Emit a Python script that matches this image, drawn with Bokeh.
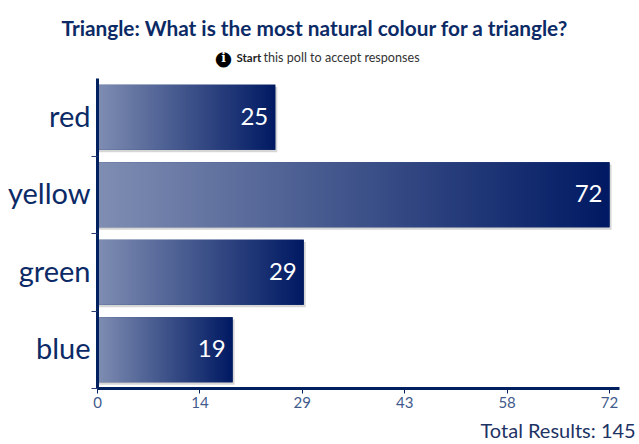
import numpy as np
from bokeh.plotting import figure
from bokeh.layouts import column
from bokeh.models import Range1d, FixedTicker, Label, ColumnDataSource
from bokeh.core.properties import value
from bokeh.embed import file_html
from bokeh.resources import INLINE

categories = ["red", "yellow", "green", "blue"]
votes = [25, 72, 29, 19]
x_ticks = [0, 14.4, 28.8, 43.2, 57.6, 72]
x_tick_labels = ["0", "14", "29", "43", "58", "72"]

NAVY = "#00205f"
FONT = "Lato"
BAR_H = 0.84
SHADOW_DX, SHADOW_DY = 0.28, 0.03
LABEL_NUDGE = 0.025
W, H_HEAD, H_MAIN, H_FOOT = 639, 78, 337, 29


def band(height):
    f = figure(width=W, height=height, output_backend="svg", toolbar_location=None,
               x_range=Range1d(0, W), y_range=Range1d(0, height),
               x_axis_type=None, y_axis_type=None, min_border=0,
               outline_line_color=None, background_fill_color="white", border_fill_color="white")
    f.grid.visible = False
    return f


def label(f, x, y, text, size, color, align="left", style="normal", font=FONT):
    f.add_layout(Label(x=x, y=y, x_units="screen", y_units="screen", text=text,
                       text_font=font, text_font_size=size, text_color=color,
                       text_align=align, text_font_style=style, text_baseline="middle"))


head = band(H_HEAD)
label(head, 61, 51, "Triangle: What is the most natural colour for a triangle?", "20.8px", "#0b2a66", "left", "bold")
label(head, 236, 21, "Start", "11.5px", "#222222", "left", "bold")
label(head, 263, 21, "this poll to accept responses", "12.6px", "#333333")
label(head, 223, 21, "\u25cf", "20px", "black", "center", font="DejaVu Sans")
label(head, 223, 21, "i", "12px", "white", "center", "bold", font="DejaVu Serif")

foot = band(H_FOOT)
label(foot, 480, 15, "Total Results: 145", "20px", "#1d3364", "left")

p = figure(width=W, height=H_MAIN, output_backend="svg", toolbar_location=None,
           x_range=Range1d(0, 73.4), y_range=Range1d(4, 0),
           min_border_left=97, min_border_right=20, min_border_top=0, min_border_bottom=27,
           outline_line_color=None, background_fill_color="white", border_fill_color="white")
p.grid.visible = False

ys = [i + 0.5 for i in range(len(categories))]
src = ColumnDataSource(dict(y=ys, v=votes, label=[str(v) for v in votes]))

# soft shadow, then the real bars, then a left-to-right gradient on each of them
p.hbar(y=[y + SHADOW_DY for y in ys], left=0, right=[v + SHADOW_DX for v in votes],
       height=BAR_H, fill_color="#c4c4c4", fill_alpha=0.7, line_color=None)
p.hbar(y="y", left=0, right="v", height=BAR_H, source=src, fill_color=NAVY, line_color=None)

N = 256
t = np.linspace(0, 1, N)
c0, c1 = np.array([0x80, 0x8e, 0xb3]), np.array([0x00, 0x1a, 0x63])
rgb = (c0[None, :] * (1 - t[:, None]) + c1[None, :] * t[:, None]).astype(np.uint32)
row = (255 << 24) | (rgb[:, 2] << 16) | (rgb[:, 1] << 8) | rgb[:, 0]
grad = row.reshape(1, N).astype(np.uint32)
p.image_rgba(image=[grad] * len(votes), x=[0] * len(votes), y=[y - BAR_H / 2 for y in ys],
             dw=votes, dh=[BAR_H] * len(votes))

p.text(x="v", y="y", text="label", source=src, text_color="white", text_align="right",
       text_baseline="middle", x_offset=-7, y_offset=-1,
       text_font=value(FONT), text_font_size="24px")

# axes
ax = p.xaxis[0]
ax.ticker = FixedTicker(ticks=x_ticks)
ax.major_label_overrides = dict(zip(x_ticks, x_tick_labels))
ax.axis_line_color = NAVY
ax.axis_line_width = 3
ax.major_tick_line_color = NAVY
ax.major_tick_out = 5
ax.major_tick_in = 0
ax.minor_tick_line_color = None
ax.major_label_text_font = FONT
ax.major_label_text_font_size = "15px"
ax.major_label_text_color = "#3f5b8c"
ax.major_label_standoff = 3

label_ys = [y - LABEL_NUDGE for y in ys]
ay = p.yaxis[0]
ay.ticker = FixedTicker(ticks=label_ys, minor_ticks=[1, 2, 3, 4])
ay.major_label_overrides = dict(zip(label_ys, categories))
ay.axis_line_color = NAVY
ay.axis_line_width = 3
ay.major_tick_line_color = None
ay.major_tick_out = 0
ay.major_tick_in = 0
ay.minor_tick_line_color = "#2a3f70"
ay.minor_tick_out = 6
ay.minor_tick_in = 0
ay.major_label_text_font = FONT
ay.major_label_text_font_size = "29px"
ay.major_label_text_color = "#0b2a66"
ay.major_label_standoff = 1

# each band in its own column, so that the layout does not align their frames
page = column(column(head), column(p), column(foot), spacing=0)
open("out.html", "w").write(file_html(page, INLINE))
